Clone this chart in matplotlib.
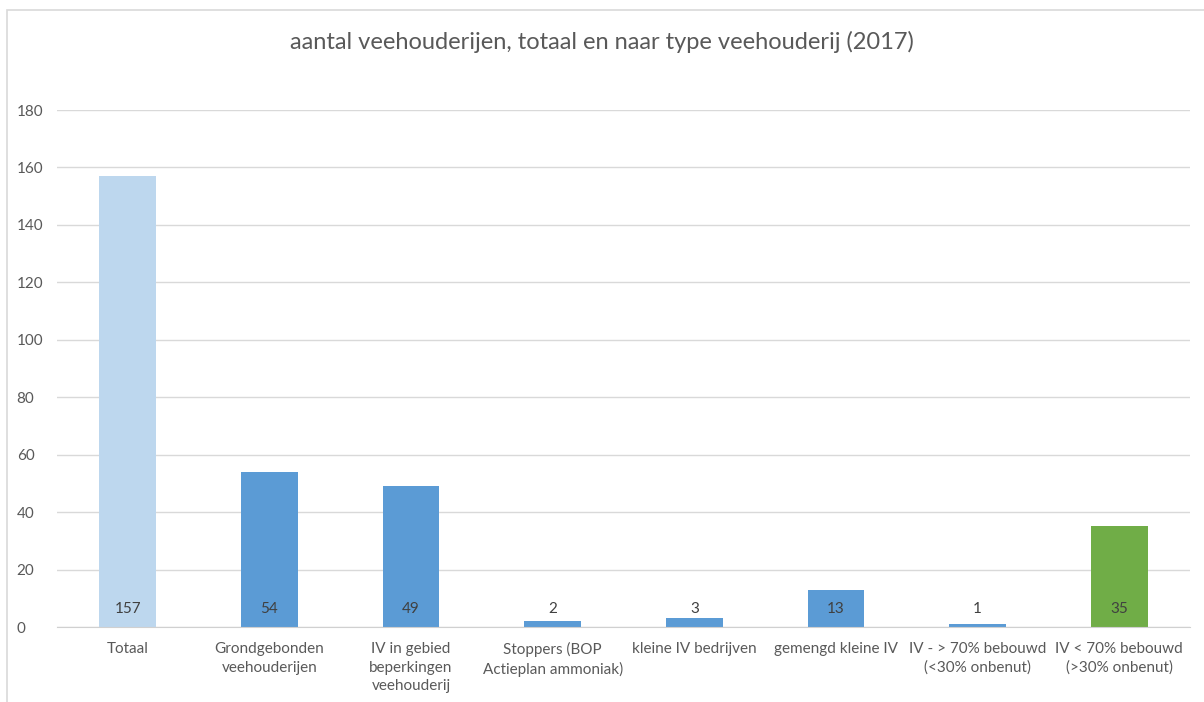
import matplotlib.pyplot as plt
from matplotlib.patches import Rectangle

categories = [
    "Totaal",
    "Grondgebonden\nveehouderijen",
    "IV in gebied\nbeperkingen\nveehouderij",
    "Stoppers (BOP\nActieplan ammoniak)",
    "kleine IV bedrijven",
    "gemengd kleine IV",
    "IV - > 70% bebouwd\n(<30% onbenut)",
    "IV < 70% bebouwd\n(>30% onbenut)",
]
values = [157, 54, 49, 2, 3, 13, 1, 35]
colors = ["#BDD7EE", "#5B9BD5", "#5B9BD5", "#5B9BD5", "#5B9BD5", "#5B9BD5", "#5B9BD5", "#70AD47"]

plt.rcParams['font.family'] = ['Lato', 'DejaVu Sans']
text_col = '#595959'

fig = plt.figure(figsize=(12.04, 7.02), dpi=100)
ax = fig.add_axes([0.0473, 0.1068, 0.9411, 0.7365])

x = range(len(values))
ax.bar(x, values, width=0.4, color=colors, zorder=2)

# value labels sit near the bottom of each bar
for i, v in enumerate(values):
    ax.annotate(str(v), (i, 0), xytext=(0, 13), textcoords='offset points',
                ha='center', va='center', fontsize=11, color='#404040')

ax.set_xlim(-0.5, len(values) - 0.5)
ax.set_ylim(0, 180)
ax.set_yticks(range(0, 181, 20))
ax.set_xticks(list(x))
ax.set_xticklabels(categories, linespacing=1.4)
ax.tick_params(axis='both', length=0, labelsize=11, labelcolor=text_col)
ax.tick_params(axis='x', pad=11)
ax.tick_params(axis='y', pad=29)
for lbl in ax.get_yticklabels():
    lbl.set_horizontalalignment('left')
ax.yaxis.grid(True, color='#D9D9D9', linewidth=1, zorder=0)
for side in ['top', 'right', 'left']:
    ax.spines[side].set_visible(False)
ax.spines['bottom'].set_color('#D0D0D0')

fig.text(0.5, 0.94, 'aantal veehouderijen, totaal en naar type veehouderij (2017)',
         ha='center', va='center', fontsize=17, color=text_col)

# chart frame, only top/left edges are visible in the crop
fig.patches.append(Rectangle((0.0058, -0.1), 1.1, 0.9858 + 0.1, transform=fig.transFigure,
                             fill=False, edgecolor='#D9D9D9', linewidth=1.2))

fig.savefig('out.png', dpi=100)
